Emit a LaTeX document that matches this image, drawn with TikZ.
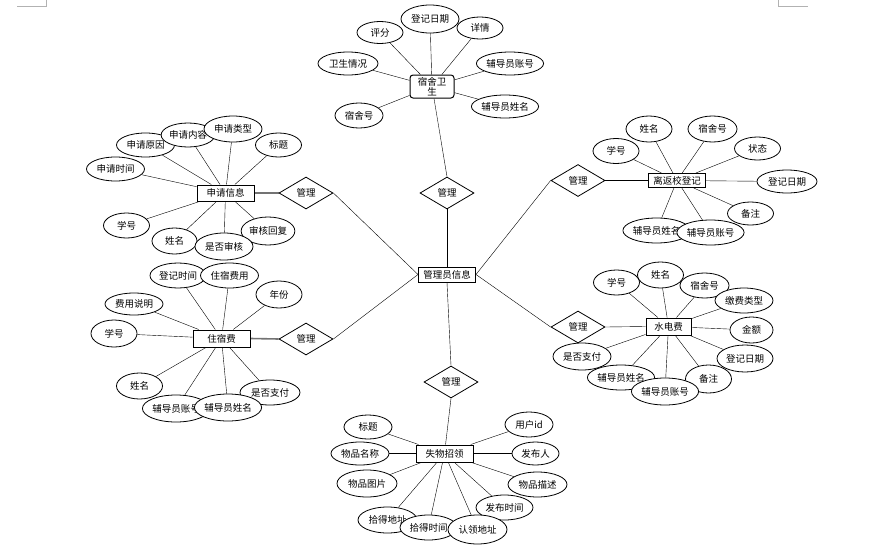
\documentclass[tikz,border=0pt]{standalone}
\usepackage{fontspec}
\setmainfont{Noto Sans CJK SC}
\usetikzlibrary{shapes.geometric,backgrounds}

\begin{document}
\begin{tikzpicture}[x=1pt, y=-1pt, line width=0.8pt,
    font=\fontsize{9.5}{10.5}\selectfont,
    entity/.style={rectangle, draw, line width=1pt, fill=white, minimum width=57pt, minimum height=16pt, inner sep=0pt},
    attr/.style={ellipse, draw, fill=white, minimum width=46pt, minimum height=25pt, inner sep=0pt},
    attrm/.style={attr, minimum width=58pt},
    attrl/.style={attr, minimum width=67pt},
    rel/.style={diamond, draw, fill=white, minimum width=54pt, minimum height=32pt, inner sep=0pt},
    link/.style={line width=1.6pt, draw=black!55}]
                    \useasboundingbox (0,0) rectangle (886,554);
                    % page corner marks
                    \draw[black!30, line width=0.8pt] (17,6) -- (46.5,6) -- (46.5,0);
                    \draw[black!30, line width=0.8pt] (778,0) -- (778,6) -- (808,6);

                    \node (admin) [entity, minimum height=15pt] at (447,274.5) {管理员信息};
                    \node (r1) [rel] at (447,193) {管理};
                    \node (r2) [rel] at (306,193) {管理};
                    \node (r3) [rel] at (306,339) {管理};
                    \node (r4) [rel] at (578,180.5) {管理};
                    \node (r5) [rel] at (578,327) {管理};
                    \node (r6) [rel] at (451,382) {管理};

                    % 宿舍卫生
                    \node (hyg) [entity, rounded corners=3pt, minimum width=44pt, minimum height=23pt, align=center] at (432,86.5) {宿舍卫\\生};
                    \node (hyg1) [attr, minimum height=22pt] at (380,32.5) {评分};
                    \node (hyg2) [attrm, minimum height=28pt] at (430,19) {登记日期};
                    \node (hyg3) [attr, minimum height=22pt] at (480,28) {详情};
                    \node (hyg4) [attrm, minimum width=60pt, minimum height=23pt] at (348,63.5) {卫生情况};
                    \node (hyg5) [attrm, minimum height=23pt] at (510,63.5) {辅导员账号};
                    \node (hyg6) [attr, minimum width=48pt] at (359,115.5) {宿舍号};
                    \node (hyg7) [attrl, minimum height=23pt] at (505,106.5) {辅导员姓名};

                    % 申请信息
                    \node (apply) [entity] at (225.5,193) {申请信息};
                    \node (app1) [attrm, minimum height=24pt] at (115.5,169) {申请时间};
                    \node (app2) [attrm, minimum height=24pt] at (145.5,145) {申请原因};
                    \node (app3) [attr, minimum width=50pt, minimum height=24pt] at (188,135) {申请内容};
                    \node (app4) [attrm, minimum height=26pt] at (233,129) {申请类型};
                    \node (app5) [attr, minimum height=24pt] at (278.5,145) {标题};
                    \node (app6) [attr] at (126.5,225.5) {学号};
                    \node (app7) [attr, minimum width=45pt, minimum height=26pt] at (174.5,241) {姓名};
                    \node (app8) [attr, minimum width=51pt, minimum height=28pt] at (268,231) {审核回复};
                    \node (app9) [attrm, minimum height=27pt] at (224,246.5) {是否审核};

                    % 离返校登记
                    \node (leave) [entity, minimum height=14pt] at (677,180.5) {离返校登记};
                    \node (lv1) [attr] at (616,151) {学号};
                    \node (lv2) [attr, minimum height=26pt] at (649,129) {姓名};
                    \node (lv3) [attr, minimum width=49pt, minimum height=26pt] at (712.5,129) {宿舍号};
                    \node (lv4) [attr, minimum height=23pt] at (757.5,148.5) {状态};
                    \node (lv5) [attrm, minimum width=60pt, minimum height=23pt] at (787,181.5) {登记日期};
                    \node (lv6) [attr, minimum height=23pt] at (750.5,213.5) {备注};
                    \node (lv7) [attrm, minimum width=61pt] at (656.5,230.5) {辅导员姓名};
                    \node (lv8) [attrl] at (710.5,232.5) {辅导员账号};

                    % 住宿费
                    \node (fee) [entity, minimum height=17pt] at (221.5,338.5) {住宿费};
                    \node (fee1) [attrm, minimum width=56pt] at (178,275.5) {登记时间};
                    \node (fee2) [attrm] at (229.5,275.5) {住宿费用};
                    \node (fee3) [attr, minimum height=27pt] at (279,294.5) {年份};
                    \node (fee4) [attrm, minimum height=22pt] at (134,304) {费用说明};
                    \node (fee5) [attr, minimum height=27pt] at (114,333.5) {学号};
                    \node (fee6) [attr, minimum height=26pt] at (139.5,386) {姓名};
                    \node (fee7) [attrm, minimum width=60pt] at (270,392.5) {是否支付};
                    \node (fee8) [attrm, minimum height=27pt] at (176,408.5) {辅导员账号};
                    \node (fee9) [attrl, minimum height=27pt] at (228,407.5) {辅导员姓名};

                    % 水电费
                    \node (power) [entity, minimum width=45pt, minimum height=17pt] at (668.5,326.5) {水电费};
                    \node (pw1) [attr] at (616.5,282.5) {学号};
                    \node (pw2) [attr, minimum height=26pt] at (660.5,275) {姓名};
                    \node (pw3) [attr, minimum width=49pt] at (704.5,285.5) {宿舍号};
                    \node (pw4) [attrm] at (744,300.5) {缴费类型};
                    \node (pw5) [attr, minimum width=43pt, minimum height=26pt] at (751.5,330) {金额};
                    \node (pw6) [attrm, minimum width=56pt, minimum height=27pt] at (745,358.5) {登记日期};
                    \node (pw7) [attr, minimum height=28pt] at (708.5,379) {备注};
                    \node (pw8) [attrm, minimum height=27pt] at (582,356.5) {是否支付};
                    \node (pw9) [attrl] at (621,377.5) {辅导员姓名};
                    \node (pw10) [attrl, minimum height=27pt] at (665,391.5) {辅导员账号};

                    % 失物招领
                    \node (lost) [entity, minimum height=17pt] at (444.5,453.5) {失物招领};
                    \node (ls1) [attr, minimum width=48pt, minimum height=24pt] at (368,427) {标题};
                    \node (ls2) [attrm, minimum height=23pt] at (360,453.5) {物品名称};
                    \node (ls3) [attrm, minimum width=60pt, minimum height=27pt] at (367,483.5) {物品图片};
                    \node (ls4) [attr, minimum width=48pt] at (529,424.5) {用户id};
                    \node (ls5) [attr, minimum width=47pt, minimum height=23pt] at (535.5,453.5) {发布人};
                    \node (ls6) [attrm, minimum width=59pt] at (537.5,484.5) {物品描述};
                    \node (ls7) [attrm, minimum width=57pt] at (504.5,507.5) {发布时间};
                    \node (ls8) [attrm, minimum width=59pt, minimum height=26pt] at (387.5,520) {拾得地址};
                    \node (ls9) [attrm, minimum width=57pt] at (428.5,527.5) {拾得时间};
                    \node (ls10) [attrm, minimum width=59pt, minimum height=29pt] at (477.5,529.5) {认领地址};

                    \begin{scope}[on background layer]
                    \path[-] (admin.north) edge (r1.south);
                    \path[-] (admin.west) edge (r2.east);
                    \path[-] (admin.west) edge (r3.east);
                    \path[-] (admin.east) edge (r4.west);
                    \path[-] (admin.east) edge (r5.west);
                    \path[-] (admin.south) edge (r6.north);
                    \path[-] (r1.north) edge (hyg);
                    \path[-, link] (r2.west) edge (apply.east);
                    \path[-, link] (r3.west) edge (fee.east);
                    \path[-] (r4.east) edge (leave.west);
                    \path[-] (r5.east) edge (power.west);
                    \path[-] (r6.south) edge (lost);
                    \foreach \i in {1,...,7} \path[-] (hyg) edge (hyg\i);
                    \foreach \i in {1,...,9} \path[-] (apply) edge (app\i);
                    \foreach \i in {1,...,8} \path[-] (leave) edge (lv\i);
                    \foreach \i in {1,...,9} \path[-] (fee) edge (fee\i);
                    \foreach \i in {1,...,10} \path[-] (power) edge (pw\i);
                    \foreach \i in {1,...,10} \path[-] (lost) edge (ls\i);
                    \end{scope}
                \end{tikzpicture}
\end{document}
